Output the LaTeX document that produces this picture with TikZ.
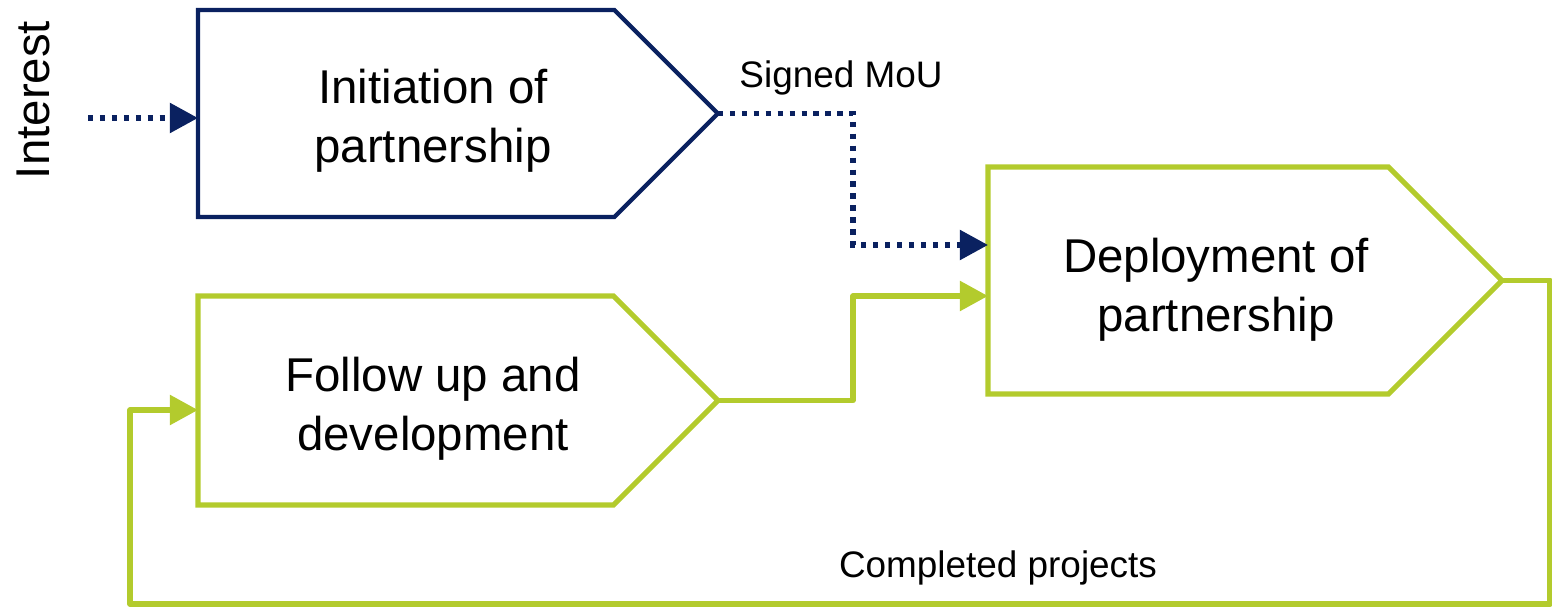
\documentclass[tikz,border=0pt]{standalone}
\usepackage{fontspec}
\setmainfont{Liberation Sans}
\usetikzlibrary{shapes.symbols,arrows.meta,calc}
\definecolor{navy}{HTML}{0A2160}
\definecolor{lime}{HTML}{B3CB2D}
\begin{document}
\begin{tikzpicture}[x=0.02cm,y=-0.02cm,
  stage/.style={signal, signal to=east, signal from=nowhere, signal pointer angle=90,
    inner sep=0pt, outer sep=0pt, anchor=west},
  navystage/.style={stage, draw=navy, line width=2.4pt},
  limestage/.style={stage, draw=lime, line width=2.9pt},
  maintext/.style={align=center, font=\fontsize{27}{33.5}\selectfont, inner sep=0pt},
  smalltext/.style={font=\fontsize{21}{25}\selectfont, inner sep=0pt},
  navyflow/.style={draw=navy, line width=3.1pt, dash pattern=on 3pt off 3.8pt,
    -{Triangle[length=16pt,width=16.5pt]}},
  limeflow/.style={draw=lime, line width=3.2pt, line join=round,
    -{Triangle[length=16pt,width=16.5pt]}}
]
\useasboundingbox (0,0) rectangle (1552,607);

% stages
\node[navystage, minimum width=10.4cm, minimum height=4.14cm] (init) at (198,113.5) {};
\node[limestage, minimum width=10.28cm, minimum height=4.54cm] (depl) at (988,280.5) {};
\node[limestage, minimum width=10.4cm, minimum height=4.18cm] (follow) at (198,400.5) {};

\node[maintext] (initT) at (433,121) {Initiation of\\partnership};
\node[maintext] (deplT) at (1216,290) {Deployment of\\partnership};
\node[maintext] (followT) at (433,409) {Follow up and\\development};

% labels
\node[maintext, rotate=90] (interest) at (33,100) {Interest};
\node[smalltext] (mou) at (841,78) {Signed MoU};
\node[smalltext] (done) at (998,568) {Completed projects};

% connectors
\coordinate (src) at (88,118);
\coordinate (j1) at (853,245);
\coordinate (j2) at (853,296);
\coordinate (c1) at (1550,604);
\coordinate (c3) at (130,604);
\coordinate (c2) at (130,410);

\draw[navyflow] (src) -- (src -| init.west);
\draw[navyflow] (init.east) -| (j1) -- (j1 -| depl.west);
\draw[limeflow] (follow.east) -| (j2) -- (j2 -| depl.west);
\draw[limeflow] (depl.east) -| (c1) -- (c3) -- (c2) -- (c2 -| follow.west);
\end{tikzpicture}
\end{document}
